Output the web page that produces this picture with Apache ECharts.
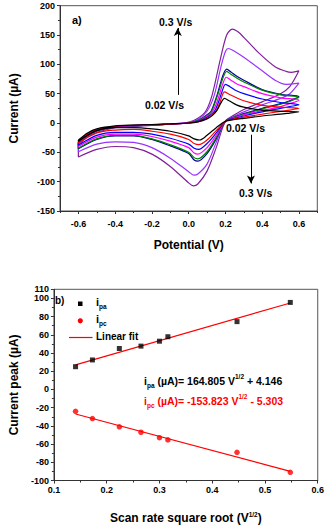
<!DOCTYPE html>
<html><head><meta charset="utf-8">
<script src="https://cdn.jsdelivr.net/npm/echarts@6/dist/echarts.min.js"></script>
<style>html,body{margin:0;padding:0;background:#fff}#c{width:327px;height:525px}</style>
</head><body><div id="c"></div>
<script>
// ---------- Panel a) cyclic voltammograms: [potential V, current µA] ----------
const scanRates = ['0.02 V/s','0.03 V/s','0.05 V/s','0.07 V/s','0.09 V/s','0.1 V/s','0.2 V/s','0.3 V/s'];
const cv002 = [[-0.6,-29],[-0.55,-17],[-0.5,-10],[-0.4,-5],[-0.3,-3.5],[-0.2,-2.5],[-0.1,-1.5],[0,0],[0.05,2],[0.1,7],[0.13,13],[0.155,22],[0.175,34],[0.195,42],[0.22,38],[0.26,31],[0.3,27],[0.4,22],[0.5,20],[0.6,19],
  [0.55,17],[0.5,15],[0.4,12],[0.3,8],[0.25,6],[0.2,3],[0.15,-8],[0.1,-21],[0.06,-29],[0.03,-27],[0,-22],[-0.1,-14],[-0.2,-10],[-0.3,-8],[-0.4,-8],[-0.5,-13],[-0.6,-31],[-0.6,-29]];
const cv003 = [[-0.6,-31],[-0.55,-18],[-0.5,-11],[-0.4,-5.5],[-0.3,-4],[-0.2,-3],[-0.1,-2],[0,0],[0.05,2],[0.1,8],[0.13,15],[0.15,21],[0.17,35],[0.195,53],[0.22,49],[0.26,43],[0.3,38],[0.4,30],[0.5,27],[0.6,25],
  [0.55,22],[0.5,20],[0.4,15],[0.3,10],[0.25,7],[0.2,3],[0.15,-13],[0.1,-29],[0.055,-37],[0.03,-35],[0,-28],[-0.1,-19],[-0.2,-14],[-0.3,-11],[-0.4,-12],[-0.5,-17],[-0.6,-34],[-0.6,-31]];
const cv005 = [[-0.6,-32],[-0.55,-19],[-0.5,-12],[-0.4,-6],[-0.3,-4],[-0.2,-3],[-0.1,-2],[0,0],[0.05,3],[0.1,10],[0.14,20],[0.165,38],[0.18,52],[0.2,66],[0.225,62],[0.26,55],[0.3,50],[0.4,41],[0.5,35],[0.6,31],
  [0.55,28],[0.5,25],[0.4,19],[0.3,12],[0.25,8],[0.2,3],[0.15,-17],[0.1,-35],[0.055,-45],[0.03,-43],[0,-36],[-0.1,-26],[-0.2,-19],[-0.3,-16],[-0.4,-16],[-0.5,-21],[-0.6,-38],[-0.6,-32]];
const cv007 = [[-0.6,-33],[-0.55,-20],[-0.5,-12],[-0.4,-6],[-0.3,-4.5],[-0.2,-3],[-0.1,-2],[0,0],[0.05,3],[0.1,11],[0.13,20],[0.15,32],[0.167,48],[0.185,66],[0.205,78],[0.23,73],[0.26,67],[0.3,62],[0.4,50],[0.5,43],[0.6,39],
  [0.55,33],[0.5,28],[0.4,21],[0.3,14],[0.25,9],[0.2,3],[0.15,-21],[0.1,-42],[0.05,-53],[0.03,-51],[0,-42],[-0.1,-31],[-0.2,-23],[-0.3,-19],[-0.4,-19],[-0.5,-24],[-0.6,-40],[-0.6,-33]];
const cv009 = [[-0.6,-34],[-0.55,-21],[-0.5,-13],[-0.4,-6.5],[-0.3,-4.5],[-0.2,-3.5],[-0.1,-2],[0,0],[0.05,4],[0.1,13],[0.125,20],[0.158,48],[0.187,77],[0.207,88],[0.23,83],[0.26,77],[0.3,70],[0.4,56],[0.5,48],[0.6,44],
  [0.55,37],[0.5,32],[0.4,24],[0.3,15],[0.25,10],[0.2,3],[0.15,-25],[0.1,-49],[0.05,-61],[0.03,-59],[0,-50],[-0.1,-37],[-0.2,-27],[-0.3,-21],[-0.4,-21],[-0.5,-27],[-0.6,-43],[-0.6,-34]];
const cv01 = [[-0.6,-34],[-0.55,-21],[-0.5,-13],[-0.4,-7],[-0.3,-5],[-0.2,-3.5],[-0.1,-2],[0,0],[0.05,4],[0.1,14],[0.122,20],[0.155,48],[0.185,80],[0.207,92],[0.23,87],[0.26,80],[0.3,73],[0.4,57],[0.5,49],[0.6,45],
  [0.55,38],[0.5,33],[0.4,25],[0.3,16],[0.25,10],[0.2,3],[0.15,-27],[0.1,-52],[0.05,-65],[0.03,-63],[0,-52],[-0.1,-39],[-0.2,-28],[-0.3,-22],[-0.4,-22],[-0.5,-28],[-0.6,-44],[-0.6,-34]];
const cv02 = [[-0.6,-36],[-0.55,-22],[-0.5,-14],[-0.4,-7.5],[-0.3,-5],[-0.2,-3.5],[-0.1,-1.5],[0,1],[0.05,6],[0.1,20],[0.14,48],[0.175,95],[0.2,122],[0.216,127],[0.24,124],[0.3,112],[0.4,89],[0.47,73],[0.53,66],[0.6,68],
  [0.55,50],[0.5,42],[0.4,31],[0.3,19],[0.25,12],[0.2,3],[0.15,-33],[0.1,-70],[0.05,-87],[0.03,-89],[0,-83],[-0.1,-60],[-0.2,-42],[-0.3,-33],[-0.4,-32],[-0.5,-36],[-0.6,-49],[-0.6,-36]];
const cv03 = [[-0.6,-38],[-0.55,-24],[-0.5,-16],[-0.4,-8],[-0.3,-5.5],[-0.2,-4],[-0.1,-1.5],[0,1],[0.05,8],[0.093,20],[0.128,48],[0.172,108],[0.207,150],[0.238,160],[0.27,155],[0.3,146],[0.38,120],[0.47,96],[0.53,88],[0.56,86.5],[0.6,89],
  [0.55,62],[0.5,50],[0.4,36],[0.3,23],[0.25,14],[0.2,3],[0.15,-42],[0.1,-82],[0.05,-104],[0.025,-107],[0,-102],[-0.1,-74],[-0.2,-53],[-0.3,-42],[-0.4,-40],[-0.5,-45],[-0.6,-58],[-0.6,-38]];
const cvCurves = [cv002, cv003, cv005, cv007, cv009, cv01, cv02, cv03];
const cvColors = ['#000000','#ff0000','#0000ff','#ff00ff','#008000','#000099','#9933ff','#80209a'];
const topXTicks = [-0.6,-0.4,-0.2,0,0.2,0.4,0.6];
const topXMinor = [-0.7,-0.5,-0.3,-0.1,0.1,0.3,0.5,0.7];
// arrows (potential, from current, to current)
const arrowUp = [[-0.059,48],[-0.059,162]];
const arrowDown = [[0.339,-20],[0.339,-103]];

// ---------- Panel b) peak currents vs sqrt(scan rate) ----------
const sqrtRate = [0.141,0.173,0.224,0.265,0.300,0.316,0.447,0.548];
const ipa = [25,32.4,45,47.6,53,57.9,74.5,95.6];
const ipc = [-24,-32,-41,-47,-53,-55.4,-69,-91];
const fitPa = [[0.141,27],[0.548,95]];
const fitPc = [[0.141,-27],[0.548,-90]];

const FF = "'Liberation Sans', Arial, sans-serif";
const AX = '#333';
const chart = echarts.init(document.getElementById('c'), null, {renderer:'svg'});

const tickLabel = {fontFamily: FF, fontSize: 9, fontWeight: 'bold', color: '#000'};

const topSeries = cvCurves.map((d, i) => ({
  type: 'line', xAxisIndex: 0, yAxisIndex: 0, data: d, showSymbol: false, smooth: 0.3,
  lineStyle: {width: 1.2, color: cvColors[i]}, itemStyle: {color: cvColors[i]},
  z: 10 - i, silent: true, name: scanRates[i]
}));
topSeries[0].markLine = {
  silent: true, symbol: ['none','arrow'], symbolSize: [6, 8],
  lineStyle: {color: '#000', width: 1, type: 'solid'}, label: {show: false},
  data: [[{coord: arrowUp[0]}, {coord: arrowUp[1]}], [{coord: arrowDown[0]}, {coord: arrowDown[1]}]]
};

function subSt(c) { return {fontFamily: FF, fontSize: 6.5, fontWeight: 'bold', padding: [9,0,0,0], fill: c, color: c}; }
function supSt(c) { return {fontFamily: FF, fontSize: 6.5, fontWeight: 'bold', padding: [0,0,8,0], fill: c, color: c}; }
function mainSt(c, fs) { return {fontFamily: FF, fontSize: fs, fontWeight: 'bold', fill: c, color: c}; }

const option = {
  animation: false,
  backgroundColor: '#fff',
  grid: [
    {left: 51.7, top: 5.7, width: 265.6, height: 205.3, show: true, borderColor: '#555', borderWidth: 1},
    {left: 50.7, top: 289.3, width: 268.6, height: 198, show: true, borderColor: '#555', borderWidth: 1}
  ],
  xAxis: [
    {gridIndex: 0, type: 'value', min: -0.7, max: 0.7,
     name: 'Potential (V)', nameLocation: 'middle', nameGap: 28,
     nameTextStyle: {fontFamily: FF, fontSize: 12, fontWeight: 'bold', color: '#000'},
     axisLine: {onZero: false, lineStyle: {color: AX, width: 1}},
     axisTick: {customValues: topXTicks, length: 3, lineStyle: {color: AX}},
     axisLabel: Object.assign({customValues: topXTicks, margin: 8, formatter: v => v.toFixed(1)}, tickLabel),
     splitLine: {show: false}},
    {gridIndex: 0, type: 'value', min: -0.7, max: 0.7, position: 'bottom',
     axisLine: {show: false, onZero: false},
     axisTick: {customValues: topXMinor, length: 2, lineStyle: {color: AX}},
     axisLabel: {show: false}, splitLine: {show: false}},
    {gridIndex: 1, type: 'value', min: 0.1, max: 0.6, interval: 0.1,
     name: '{t|Scan rate square root (V}{s|1/2}{t|)}', nameLocation: 'middle', nameGap: 30,
     nameTextStyle: {rich: {t: mainSt('#000', 12), s: supSt('#000')}},
     axisLine: {onZero: false, lineStyle: {color: AX, width: 1}},
     axisTick: {length: 3, lineStyle: {color: AX}},
     minorTick: {show: true, splitNumber: 2, length: 2, lineStyle: {color: AX}},
     axisLabel: Object.assign({margin: 5, formatter: v => v.toFixed(1)}, tickLabel),
     splitLine: {show: false}}
  ],
  yAxis: [
    {gridIndex: 0, type: 'value', min: -150, max: 200, interval: 50,
     name: 'Current (\u00b5A)', nameLocation: 'middle', nameGap: 40,
     nameTextStyle: {fontFamily: FF, fontSize: 12, fontWeight: 'bold', color: '#000'},
     axisLine: {show: true, onZero: false, lineStyle: {color: AX, width: 1}},
     axisTick: {show: true, length: 3, lineStyle: {color: AX}},
     minorTick: {show: true, splitNumber: 2, length: 2, lineStyle: {color: AX}},
     axisLabel: Object.assign({margin: 5}, tickLabel),
     splitLine: {show: false}},
    {gridIndex: 1, type: 'value', min: -100, max: 110, interval: 20,
     name: 'Current peak (\u00b5A)', nameLocation: 'middle', nameGap: 31,
     nameTextStyle: {fontFamily: FF, fontSize: 12, fontWeight: 'bold', color: '#000'},
     axisLine: {show: true, onZero: false, lineStyle: {color: AX, width: 1}},
     axisTick: {show: true, length: 3, lineStyle: {color: AX}},
     minorTick: {show: true, splitNumber: 2, length: 2, lineStyle: {color: AX}},
     axisLabel: Object.assign({margin: 5}, tickLabel),
     splitLine: {show: false}}
  ],
  series: topSeries.concat([
    {type: 'line', xAxisIndex: 2, yAxisIndex: 1, data: fitPa, showSymbol: false, lineStyle: {color: '#ff0000', width: 1.2}, silent: true, z: 3},
    {type: 'line', xAxisIndex: 2, yAxisIndex: 1, data: fitPc, showSymbol: false, lineStyle: {color: '#ff0000', width: 1.2}, silent: true, z: 3},
    {type: 'scatter', xAxisIndex: 2, yAxisIndex: 1, data: sqrtRate.map((x, i) => [x, ipa[i]]), symbol: 'rect', symbolSize: 5, itemStyle: {color: '#000'}, z: 5},
    {type: 'scatter', xAxisIndex: 2, yAxisIndex: 1, data: sqrtRate.map((x, i) => [x, ipc[i]]), symbol: 'circle', symbolSize: 5.5, itemStyle: {color: '#ff0000'}, z: 5}
  ]),
  graphic: [
    {type: 'text', left: 72, top: 14, style: {text: 'a)', font: "bold 11px 'Liberation Sans', Arial, sans-serif", fill: '#000'}},
    {type: 'text', left: 159, top: 16, style: {text: '0.3 V/s', font: "bold 10.5px 'Liberation Sans', Arial, sans-serif", fill: '#000'}},
    {type: 'text', left: 145, top: 99, style: {text: '0.02 V/s', font: "bold 10.5px 'Liberation Sans', Arial, sans-serif", fill: '#000'}},
    {type: 'text', left: 226, top: 122, style: {text: '0.02 V/s', font: "bold 10.5px 'Liberation Sans', Arial, sans-serif", fill: '#000'}},
    {type: 'text', left: 239, top: 187, style: {text: '0.3 V/s', font: "bold 10.5px 'Liberation Sans', Arial, sans-serif", fill: '#000'}},
    {type: 'text', left: 55, top: 295, style: {text: 'b)', font: "bold 10px 'Liberation Sans', Arial, sans-serif", fill: '#000'}},
    // legend
    {type: 'rect', shape: {x: 78, y: 301.5, width: 4.5, height: 4.5}, style: {fill: '#000'}},
    {type: 'circle', shape: {cx: 80.3, cy: 320.8, r: 2.6}, style: {fill: '#ff0000'}},
    {type: 'line', shape: {x1: 69, y1: 337.5, x2: 92.5, y2: 337.5}, style: {stroke: '#ff0000', lineWidth: 1.2}},
    {type: 'text', left: 96, top: 296, style: {text: '{m|i}{s|pa}', fill: '#000', rich: {m: mainSt('#000', 11), s: subSt('#000')}}},
    {type: 'text', left: 96, top: 313, style: {text: '{m|i}{s|pc}', fill: '#000', rich: {m: mainSt('#000', 11), s: subSt('#000')}}},
    {type: 'text', left: 96, top: 331, style: {text: 'Linear fit', font: "bold 10px 'Liberation Sans', Arial, sans-serif", fill: '#000'}},
    // equations
    {type: 'text', left: 144, top: 373, style: {text: '{m|i}{s|pa}{m| (\u00b5A)= 164.805 V}{u|1/2}{m| + 4.146}', fill: '#000',
      rich: {m: mainSt('#000', 10.5), s: subSt('#000'), u: supSt('#000')}}},
    {type: 'text', left: 144, top: 393, style: {text: '{m|i}{s|pc}{m| (\u00b5A)= -153.823 V}{u|1/2}{m| - 5.303}', fill: '#ff0000',
      rich: {m: mainSt('#ff0000', 10.5), s: subSt('#ff0000'), u: supSt('#ff0000')}}}
  ]
};
chart.setOption(option);
</script></body></html>
